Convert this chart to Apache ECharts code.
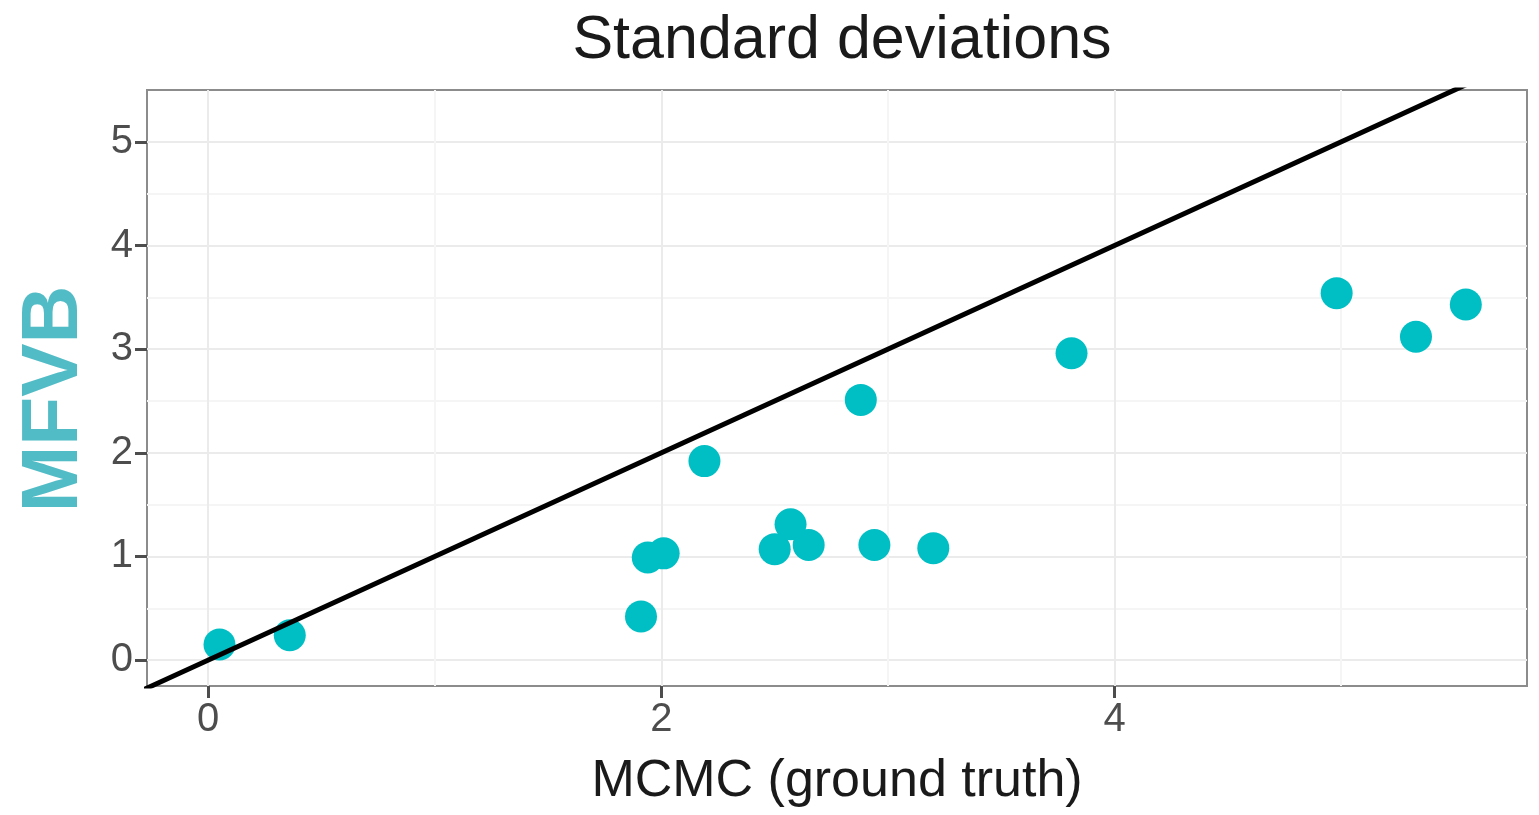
<!DOCTYPE html>
<html>
<head>
<meta charset="utf-8">
<script src="https://cdn.jsdelivr.net/npm/echarts@6/dist/echarts.min.js"></script>
<style>
  html, body { margin: 0; padding: 0; background: #fff; }
  #main { width: 1539px; height: 815px; }
</style>
</head>
<body>
<div id="main"></div>
<script>
// MCMC (ground truth) standard deviations vs MFVB estimates
var mcmcSd = [0.05, 0.36, 1.91, 1.94, 2.01, 2.19, 2.50, 2.57, 2.65, 2.88, 2.94, 3.20, 3.81, 4.98, 5.33, 5.55];
var mfvbSd = [0.15, 0.24, 0.42, 0.99, 1.03, 1.92, 1.07, 1.31, 1.11, 2.51, 1.11, 1.08, 2.96, 3.54, 3.12, 3.43];

// identity line end points (clipped to the panel)
var identity = [-1, 7];

var xRange = [-0.27, 5.82];
var yRange = [-0.25, 5.5];

// labelled ticks, and grid lines (major + minor alternating)
var xTicks = [0, 2, 4];
var yTicks = [0, 1, 2, 3, 4, 5];
var xGrid = [0, 1, 2, 3, 4, 5];
var yGrid = [0, 0.5, 1, 1.5, 2, 2.5, 3, 3.5, 4, 4.5, 5];

var points = mcmcSd.map(function (x, i) { return [x, mfvbSd[i]]; });
var diag = identity.map(function (v) { return [v, v]; });

var myChart = echarts.init(document.getElementById('main'));

var font = 'Liberation Sans, Arial, sans-serif';
var gridColors = ['#ebebeb', '#f5f5f5'];

function gridAxis(range, values, pos) {
  return {
    type: 'value',
    position: pos,
    min: range[0],
    max: range[1],
    axisLine: { show: false, onZero: false },
    axisTick: { show: false, customValues: values },
    axisLabel: { show: false, customValues: values },
    splitLine: { show: true, showMinLine: true, showMaxLine: true, lineStyle: { color: gridColors, width: 2 } }
  };
}

function tickAxis(range, values, pos) {
  return {
    type: 'value',
    position: pos,
    min: range[0],
    max: range[1],
    axisLine: { show: false, onZero: false },
    axisTick: { show: true, length: 12, customValues: values, lineStyle: { color: '#4d4d4d', width: 3 } },
    axisLabel: { show: true, customValues: values, margin: 14, color: '#4d4d4d', fontSize: 40, fontFamily: font },
    splitLine: { show: false },
    nameLocation: 'middle',
    nameMoveOverlap: false
  };
}

var xMain = tickAxis(xRange, xTicks, 'bottom');
xMain.name = 'MCMC (ground truth)';
xMain.nameGap = 70;
xMain.nameTextStyle = { color: '#1a1a1a', fontSize: 52, fontFamily: font };

var yMain = tickAxis(yRange, yTicks, 'left');
yMain.name = 'MFVB';
yMain.nameGap = 52;
yMain.nameTextStyle = { color: '#52bcc6', fontSize: 80, fontWeight: 'bold', fontFamily: font, padding: [0, 22, 0, 0] };

var option = {
  animation: false,
  title: {
    text: 'Standard deviations',
    left: 837,
    textAlign: 'center',
    top: 6,
    textStyle: { color: '#1a1a1a', fontSize: 61, fontWeight: 'normal', fontFamily: font }
  },
  grid: {
    left: 147, right: 12, top: 90, bottom: 129,
    containLabel: false,
    outerBoundsMode: 'none',
    show: true,
    borderColor: '#8c8c8c',
    borderWidth: 2,
    backgroundColor: '#fff'
  },
  xAxis: [gridAxis(xRange, xGrid, 'bottom'), xMain],
  yAxis: [gridAxis(yRange, yGrid, 'left'), yMain],
  series: [
    {
      type: 'scatter',
      data: points,
      symbolSize: 32,
      itemStyle: { color: '#00bfc4', opacity: 1 },
      z: 2
    },
    {
      type: 'line',
      data: diag,
      showSymbol: false,
      clip: true,
      lineStyle: { color: '#000', width: 5 },
      z: 3
    }
  ]
};

myChart.setOption(option);
</script>
</body>
</html>
